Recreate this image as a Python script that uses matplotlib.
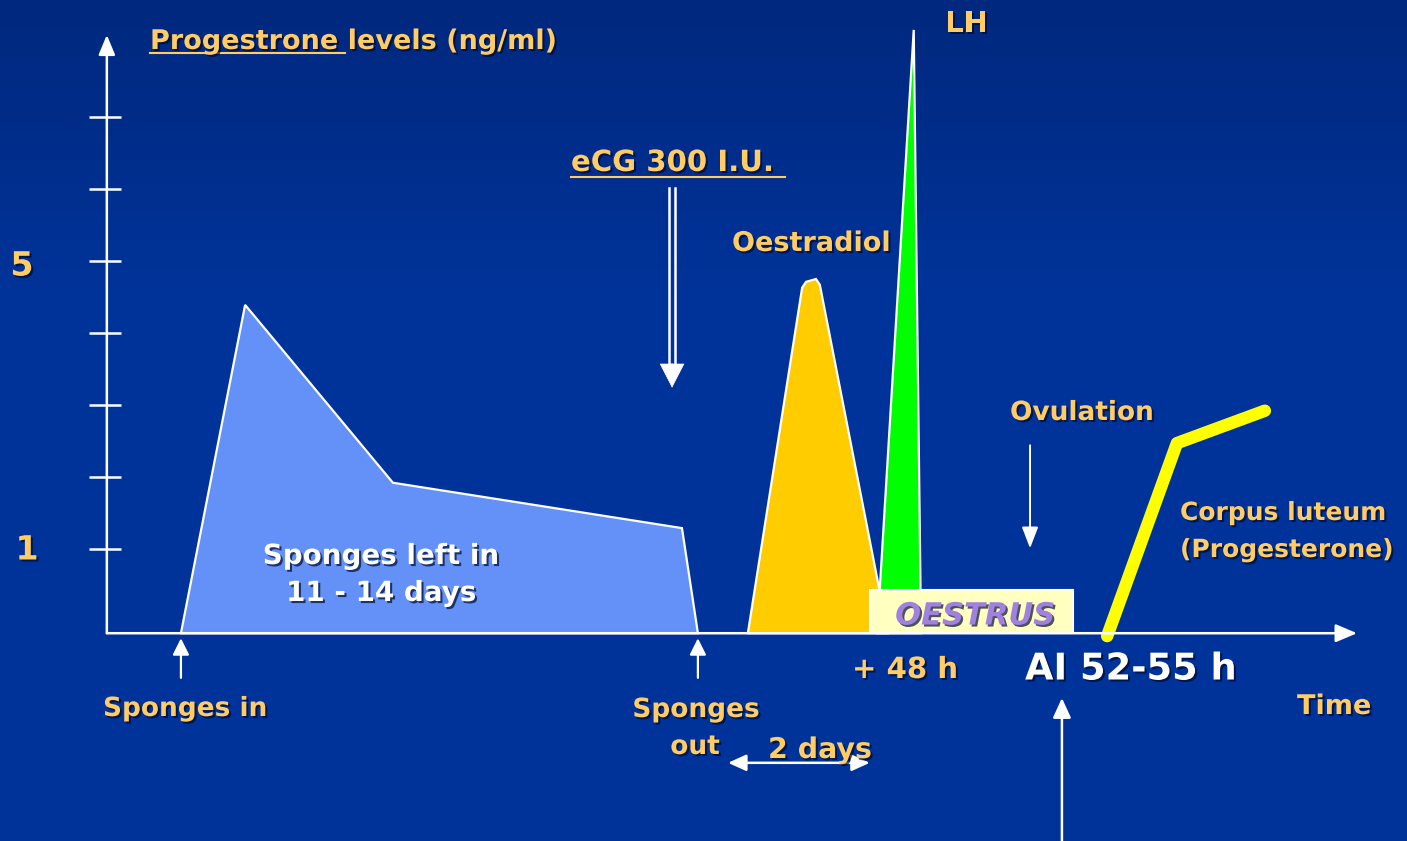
import numpy as np
import matplotlib.pyplot as plt
from matplotlib import patheffects as pe
from matplotlib.patches import Polygon, Rectangle

# Schematic data: time in days from sponge insertion, level in ng/ml
base = -0.17
prog_t = [0.0, 1.49, 4.92, 11.63, 12.0]
prog_v = [base, 4.39, 1.92, 1.29, base]
oest_t = [13.16, 14.42, 14.51, 14.74, 14.83, 16.41]
oest_v = [base, 4.63, 4.71, 4.75, 4.67, base]
lh_t = [16.16, 17.01, 17.18]
lh_v = [base, 8.21, base]
cl_t = [21.50, 23.12, 25.16]
cl_v = [-0.21, 2.47, 2.92]
oestrus_start, oestrus_end, oestrus_top = 15.99, 20.71, 0.43
ytick_vals = [1, 2, 3, 4, 5, 6, 7]
sponges_in, sponges_out = 0.0, 12.0
ecg_day = 11.40
ovulation_day = 19.71
ai_day = 20.45
two_days = (12.70, 15.99)

W, H = 1407, 841
fig = plt.figure(figsize=(W / 100, H / 100), dpi=100)
ax = fig.add_axes([0, 0, 1, 1])
ax.set_xlim(-4.20, 28.46)
ax.set_ylim(-3.056, 8.625)
ax.axis("off")

# background gradient
grad = np.ones((200, 1)) * 1.0
grad[:70, 0] = np.linspace(0, 1, 70)
top = np.array([0x00, 0x28, 0x7E]) / 255
bot = np.array([0x00, 0x33, 0x99]) / 255
img = top[None, None, :] * (1 - grad[:, :, None]) + bot[None, None, :] * grad[:, :, None]
ax.imshow(img, extent=[-4.20, 28.46, -3.056, 8.625], aspect="auto", zorder=0)

GOLD = "#FFCC66"
shadow = [pe.SimplePatchShadow(offset=(1.5, -1.5), shadow_rgbFace="#000a30", alpha=0.7), pe.Normal()]
FONT = "DejaVu Sans"

def lab(px, py, s, size=19.5, color=GOLD, ha="left", **kw):
    fig.text(px / W, 1 - (py + 2) / H, s, fontsize=size, color=color, ha=ha, va="center",
             fontweight="bold", family=FONT, path_effects=shadow, **kw)

# hormone curves
ax.add_patch(Polygon(list(zip(prog_t, prog_v)), closed=True, fc="#6391F8", ec="white", lw=1.6, zorder=3))
ax.add_patch(Polygon(list(zip(oest_t, oest_v)), closed=True, fc="#FFCC00", ec="white", lw=1.6, zorder=3))
ax.add_patch(Polygon(list(zip(lh_t, lh_v)), closed=True, fc="#00FF00", ec="white", lw=1.6, zorder=3))
ax.add_patch(Rectangle((oestrus_start, base), oestrus_end - oestrus_start, oestrus_top - base,
                       fc="#FFFFC0", ec="white", lw=1.5, zorder=4))
ax.plot(cl_t, cl_v, color="#FFFF00", lw=9, solid_capstyle="round", solid_joinstyle="round", zorder=5)

# arrows
def arrow(x0, y0, x1, y1, lw=1.6, hl=1.0, hw=0.5, style="-|>", z=6):
    ax.annotate("", xy=(x1, y1), xytext=(x0, y0),
                arrowprops=dict(arrowstyle=f"{style},head_length={hl},head_width={hw}", color="white",
                                lw=lw, shrinkA=0, shrinkB=0), zorder=z)

# axes with arrow heads
arrow(-1.72, base, 27.30, base, lw=1.8, hl=1.3, hw=0.55)
arrow(-1.72, base, -1.72, 8.14, lw=1.8, hl=1.2, hw=0.5)
ax.hlines(ytick_vals, -2.14, -1.39, color="white", lw=1.8, zorder=6)

# event arrows
arrow(sponges_in, -0.79, sponges_in, -0.24)
arrow(sponges_out, -0.79, sponges_out, -0.24)
arrow(ai_day, -3.06, ai_day, -1.07, lw=1.8, hl=1.2, hw=0.55)
arrow(ovulation_day, 2.44, ovulation_day, 1.01, lw=1.4, hl=1.3, hw=0.5)
arrow(two_days[0], -1.97, two_days[1], -1.97, style="<|-|>", lw=1.8, hl=1.1, hw=0.5)
# eCG double-line arrow
for dx in (-0.08, 0.08):
    ax.plot([ecg_day + dx, ecg_day + dx], [6.01, 3.50], color="white", lw=1.8, zorder=6)
arrow(ecg_day, 3.58, ecg_day, 3.24, lw=0.5, hl=1.65, hw=0.85)

# labels
lab(150, 40, "Progestrone levels (ng/ml)")
fig.add_artist(plt.Line2D([150 / W, 345 / W], [1 - 53 / H] * 2, color=GOLD, lw=1.5))
lab(22, 264, "5", size=24, ha="center")
lab(27, 548, "1", size=24, ha="center")
lab(571, 161, "eCG 300 I.U.", size=21)
fig.add_artist(plt.Line2D([571 / W, 785 / W], [1 - 177 / H] * 2, color=GOLD, lw=1.5))
lab(732, 242, "Oestradiol")
lab(945, 22, "LH", size=21)
lab(1010, 411, "Ovulation", size=19)
lab(1180, 511, "Corpus luteum", size=18)
lab(1180, 548, "(Progesterone)", size=18)
lab(381, 554, "Sponges left in", size=20, color="white", ha="center")
lab(381, 591, "11 - 14 days", size=20, color="white", ha="center")
lab(975, 614, "OESTRUS", size=22, color="#A080E0", ha="center", style="italic")
lab(852, 668, "+ 48 h", size=21)
lab(1025, 667, "AI 52-55 h", size=26.5, color="white")
lab(1297, 705, "Time")
lab(103, 707, "Sponges in", size=19)
lab(696, 708, "Sponges", size=19, ha="center")
lab(695, 745, "out", size=19, ha="center")
lab(768, 748, "2 days", size=20.5)

fig.savefig("out.png", dpi=100)
